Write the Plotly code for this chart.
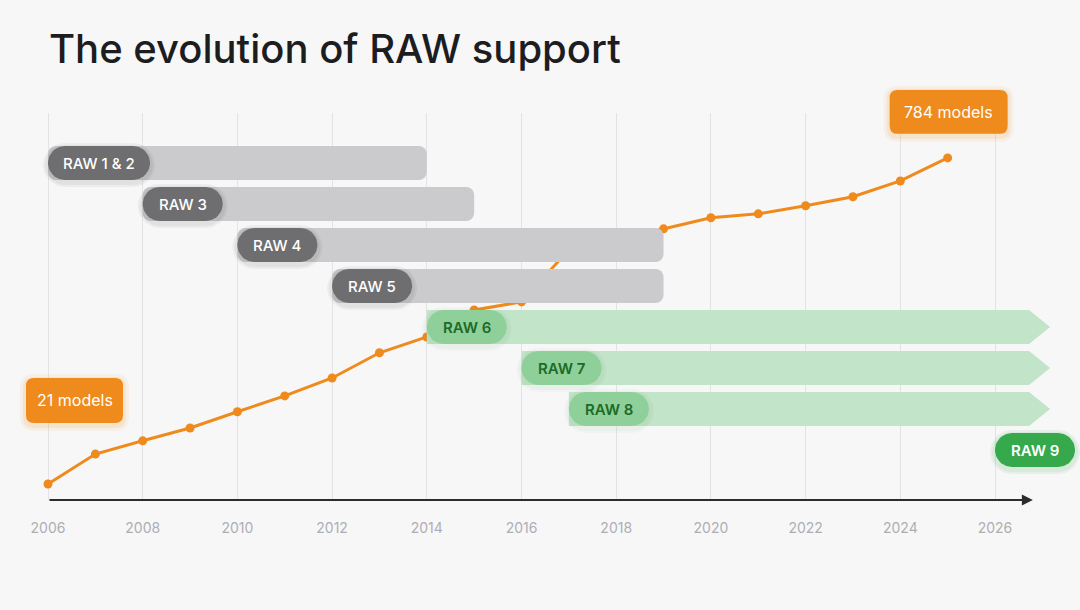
import numpy as np
import plotly.graph_objects as go

# ---------------- data ----------------
years = list(range(2006, 2026))
models = [21, 91, 122, 152, 190, 227, 269, 328, 365, 428,
          447, 569, 592, 618, 644, 653, 672, 693, 730, 784]

versions = ["RAW 1 & 2", "RAW 3", "RAW 4", "RAW 5", "RAW 6", "RAW 7", "RAW 8", "RAW 9"]
version_start = [2006, 2008, 2010, 2012, 2014, 2016, 2017, 2026]
version_end = [2014, 2015, 2019, 2019, None, None, None, None]   # None = still supported
version_status = ["retired", "retired", "retired", "retired",
                  "active", "active", "active", "new"]

tick_years = list(range(2006, 2027, 2))
title_text = "The evolution of RAW support"

# ---------------- layout constants (style) ----------------
W, H = 1080, 610
ML, MR, MT, MB = 0, 0, 113, 110
PW, PH = W - ML - MR, H - MT - MB
PX_PER_YEAR = 47.35
ORIGIN_PX = 48                     # pixel of first year
XR = [years[0] - (ORIGIN_PX - ML) / PX_PER_YEAR,
      years[0] + (W - MR - ORIGIN_PX) / PX_PER_YEAR]
YR = [-16.5, 889.0]
ROW_PX = 41
ROW0_PX = 163
Y2R = [(MT + PH - ROW0_PX) / ROW_PX, (MT - ROW0_PX) / ROW_PX]   # reversed
BAR_H_PX = 34
AXIS_END = 2026.8                   # where axis arrow ends
ONGOING_END = 2026.72               # body end for ongoing versions
HEAD_PX = 21

BG = "#f7f7f8"
ORANGE = "#ef8a1c"
GRAY_BAR = "#cbcbcd"
GRAY_PILL = "#6e6e71"
GREEN_BAR = "#c2e4c9"
GREEN_PILL = "#8fcf99"
GREEN_TEXT = "#1c6b27"
GREEN_NEW = "#35a94b"
FONT = "Inter"


def x_px(yr):
    return ML + (yr - XR[0]) / (XR[1] - XR[0]) * PW


def y_px(v):
    return MT + (YR[1] - v) / (YR[1] - YR[0]) * PH


def to_paper_x(p):
    return (p - ML) / PW


def to_paper_y(p):
    return 1 - (p - MT) / PH


def pill_poly(x0, x1, yc, h_px, grow_px=0.0, dy_px=0.0):
    r_px = h_px / 2 + grow_px
    rx = r_px / PX_PER_YEAR
    ry = r_px / ROW_PX
    yc = yc + dy_px / ROW_PX
    x0 = x0 - grow_px / PX_PER_YEAR
    x1 = x1 + grow_px / PX_PER_YEAR
    t = np.linspace(-np.pi / 2, np.pi / 2, 24)
    xr = (x1 - rx) + rx * np.cos(t)
    yr = yc + ry * np.sin(t)
    t2 = np.linspace(np.pi / 2, 3 * np.pi / 2, 24)
    xl = (x0 + rx) + rx * np.cos(t2)
    yl = yc + ry * np.sin(t2)
    xs = np.concatenate([xr, xl, xr[:1]])
    ys = np.concatenate([yr, yl, yr[:1]])
    return xs, ys


def rounded_rect_path(x0, y0, x1, y1, r):
    """pixel rect -> paper path with rounded corners"""
    def P(x, y):
        return f"{to_paper_x(x):.5f},{to_paper_y(y):.5f}"
    return (f"M {P(x0 + r, y0)} L {P(x1 - r, y0)} Q {P(x1, y0)} {P(x1, y0 + r)} "
            f"L {P(x1, y1 - r)} Q {P(x1, y1)} {P(x1 - r, y1)} "
            f"L {P(x0 + r, y1)} Q {P(x0, y1)} {P(x0, y1 - r)} "
            f"L {P(x0, y0 + r)} Q {P(x0, y0)} {P(x0 + r, y0)} Z")


fig = go.Figure()

# orange line (base axes, drawn beneath bars)
fig.add_trace(go.Scatter(
    x=years, y=models, mode="lines+markers",
    line=dict(color=ORANGE, width=3),
    marker=dict(color=ORANGE, size=9),
    hoverinfo="skip", showlegend=False, xaxis="x", yaxis="y"))

rows = list(range(len(versions)))
half = BAR_H_PX / 2 / ROW_PX

# retired versions: grey bars with rounded end
ret_idx = [i for i, s in enumerate(version_status) if s == "retired"]
fig.add_trace(go.Bar(
    orientation="h",
    y=[rows[i] for i in ret_idx],
    x=[version_end[i] - version_start[i] for i in ret_idx],
    base=[version_start[i] for i in ret_idx],
    width=BAR_H_PX / ROW_PX,
    marker=dict(color=GRAY_BAR, cornerradius=8, line=dict(width=0)),
    hoverinfo="skip", showlegend=False, xaxis="x", yaxis="y2"))

# active versions: green arrows
for i, s in enumerate(version_status):
    if s != "active":
        continue
    x0 = version_start[i]
    xb = ONGOING_END
    tip = xb + HEAD_PX / PX_PER_YEAR
    yc = rows[i]
    fig.add_trace(go.Scatter(
        x=[x0, xb, tip, xb, x0, x0],
        y=[yc - half, yc - half, yc, yc + half, yc + half, yc - half],
        fill="toself", fillcolor=GREEN_BAR, mode="lines", line=dict(width=0),
        hoverinfo="skip", showlegend=False, xaxis="x", yaxis="y2"))

# pills
pill_colors = {"retired": GRAY_PILL, "active": GREEN_PILL, "new": GREEN_NEW}
text_colors = {"retired": "white", "active": GREEN_TEXT, "new": "white"}
text_weights = {"retired": 500, "active": 600, "new": 600}
shadow_colors = {"retired": "rgba(0,0,0,0.045)", "active": "rgba(60,140,70,0.035)",
                 "new": "rgba(40,160,60,0.08)"}
annotations = []
for i, name in enumerate(versions):
    st = version_status[i]
    w_px = 80 + (len(name) - 5) * 5.5
    x0 = version_start[i]
    x1 = x0 + w_px / PX_PER_YEAR
    yc = rows[i]
    for g in (5, 3):
        sx, sy = pill_poly(x0, x1, yc, BAR_H_PX, grow_px=g, dy_px=2)
        fig.add_trace(go.Scatter(
            x=sx, y=sy, fill="toself", fillcolor=shadow_colors[st], mode="lines",
            line=dict(width=0), hoverinfo="skip", showlegend=False,
            xaxis="x", yaxis="y2"))
    px_, py_ = pill_poly(x0, x1, yc, BAR_H_PX)
    fig.add_trace(go.Scatter(
        x=px_, y=py_, fill="toself", fillcolor=pill_colors[st], mode="lines",
        line=dict(width=0), hoverinfo="skip", showlegend=False,
        xaxis="x", yaxis="y2"))
    annotations.append(dict(
        x=(x0 + x1) / 2, y=yc, xref="x", yref="y2", text=name, showarrow=False,
        font=dict(family=FONT, size=15, color=text_colors[st], weight=text_weights[st]),
        xanchor="center", yanchor="middle"))

# axis arrow
annotations.append(dict(
    x=AXIS_END, y=0, xref="x", yref="paper",
    ax=years[0], ay=0, axref="x", ayref="pixel",
    text="", showarrow=True, arrowhead=2, arrowsize=1.1, arrowwidth=2,
    arrowcolor="#2c2c30", standoff=0, startstandoff=0))

# orange value labels
shapes = []
label_specs = [
    (f"{models[0]} models", x_px(years[0]) + 26.5, y_px(models[0]) - 83.5, 97, 45),
    (f"{models[-1]} models", x_px(years[-1]) + 1, y_px(models[-1]) - 46, 118, 44),
]
for text, cx, cy, bw, bh in label_specs:
    for g, a in ((6, 0.07), (3, 0.12)):
        shapes.append(dict(
            type="path", xref="paper", yref="paper", layer="above",
            path=rounded_rect_path(cx - bw / 2 - g, cy - bh / 2 - g + 2,
                                   cx + bw / 2 + g, cy + bh / 2 + g + 2, 8 + g),
            fillcolor=f"rgba(239,138,28,{a})", line=dict(width=0)))
    shapes.append(dict(
        type="path", xref="paper", yref="paper", layer="above",
        path=rounded_rect_path(cx - bw / 2, cy - bh / 2, cx + bw / 2, cy + bh / 2, 8),
        fillcolor=ORANGE, line=dict(width=0)))
    annotations.append(dict(
        x=to_paper_x(cx), y=to_paper_y(cy), xref="paper", yref="paper",
        text=text, showarrow=False, xanchor="center", yanchor="middle",
        font=dict(family=FONT, size=16, color="white", weight=400)))

fig.update_layout(
    width=W, height=H,
    margin=dict(l=ML, r=MR, t=MT, b=MB, pad=0),
    paper_bgcolor=BG, plot_bgcolor=BG,
    showlegend=False,
    title=dict(text=title_text, x=49 / W, xanchor="left", xref="container",
               y=1 - 49 / H, yanchor="middle", yref="container",
               font=dict(family=FONT, size=40, color="#1d1d1f", weight=500)),
    xaxis=dict(range=XR, tickvals=tick_years, ticktext=[str(t) for t in tick_years],
               showgrid=True, gridcolor="#e3e3e6", gridwidth=1,
               zeroline=False, showline=False, ticks="",
               ticklabelstandoff=18,
               tickfont=dict(family=FONT, size=14, color="#aeaeb2"),
               fixedrange=True),
    yaxis=dict(range=YR, visible=False, fixedrange=True),
    yaxis2=dict(range=Y2R, overlaying="y", visible=False, fixedrange=True),
    annotations=annotations,
    shapes=shapes,
    barmode="overlay",
    font=dict(family=FONT),
)

fig.write_html("out.html", config={"displayModeBar": False},
               post_script="document.body.style.margin='0';")
